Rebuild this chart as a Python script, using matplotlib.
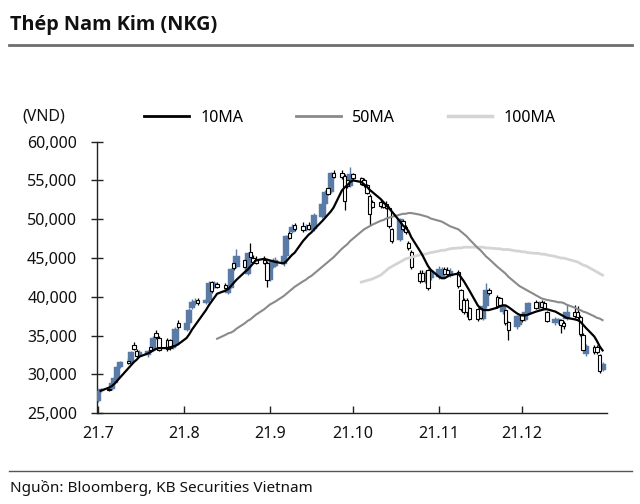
import matplotlib
matplotlib.use("Agg")
import matplotlib.pyplot as plt
import matplotlib.dates as mdates
from matplotlib.lines import Line2D
import numpy as np
import pandas as pd

plt.rcParams['font.family'] = ['Noto Sans', 'DejaVu Sans']

dates = pd.bdate_range('2021-07-01', '2021-12-30')

opens = [26600, 27900, 28100, 28100, 28900, 29600, 31000, 31700, 31500, 33800,
         33000, 32400, 32500, 33600, 33100, 35300, 34700, 34500, 34400, 33400,
         33800, 36600, 35700, 36600, 38500, 39300, 39600, 39200, 39600, 41900,
         41200, 41700, 41500, 40500, 41200, 44300, 43800, 44700, 42900, 45800,
         45000, 44800, 44800, 44400, 42200, 43800, 44000, 44200, 45200, 48200,
         48300, 49200, 49100, 48600, 49200, 48800, 48700, 50300, 52000, 54000,
         53500, 56000, 56000, 55600, 55000, 54300, 55800, 55300, 55000, 54400,
         53000, 52200, 52200, 52100, 52000, 51500, 48700, 47300, 49800, 49000,
         47000, 45800, 43100, 43100, 42000, 43400, 42400, 42500, 42600, 43600,
         43500, 42700, 43200, 40900, 39600, 39600, 38500, 38400, 38500, 37200,
         38800, 40900, 40000, 39800, 38000, 38300, 36700, 36100, 36400, 37800,
         37000, 37800, 39300, 38600, 39300, 39200, 38000, 36600, 36700, 37000,
         36600, 37200, 38000, 38100, 37400, 35100, 32600, 33500, 33600, 32500,
         30600]
highs = [28000, 28300, 28300, 29000, 29800, 31200, 31800, 32100, 33000, 34200,
         33300, 33100, 33200, 33800, 34900, 35700, 34900, 34700, 34600, 34000,
         36100, 37000, 36800, 38500, 39700, 39800, 39900, 39800, 42000, 42100,
         42000, 41900, 41800, 41400, 43700, 44600, 46200, 45000, 45800, 46900,
         45400, 45200, 45200, 44600, 44100, 45000, 45100, 45500, 48000, 48500,
         49400, 49500, 49600, 49400, 49600, 49500, 50800, 52200, 53800, 54200,
         56100, 56300, 56300, 55800, 55300, 56700, 56000, 55500, 55300, 54600,
         53200, 52500, 52500, 52400, 52300, 51700, 48900, 50200, 50000, 49200,
         47200, 46000, 43400, 43400, 43300, 43600, 43500, 44000, 43800, 43900,
         43800, 43700, 43400, 41000, 39800, 39900, 38700, 38600, 38700, 39000,
         41800, 41200, 40200, 40000, 39100, 38500, 36900, 37700, 37600, 38000,
         38200, 39400, 39600, 39500, 39600, 39500, 38200, 37400, 37300, 37200,
         36900, 38900, 38900, 38800, 37600, 35300, 33900, 33800, 33800, 32700,
         31600]
lows = [26400, 27800, 27900, 28000, 28800, 29500, 30800, 31400, 31400, 33100,
        32200, 32200, 32300, 32900, 33000, 34600, 33000, 33000, 33100, 33300,
        33700, 35900, 35600, 36500, 38400, 39000, 39000, 39100, 39400, 40500,
        41100, 41100, 41000, 40400, 41100, 43500, 43700, 43600, 42800, 45000,
        44300, 44200, 44200, 41300, 42000, 43700, 43900, 44000, 45100, 47400,
        48200, 48500, 48400, 48500, 48600, 48600, 48500, 50100, 51900, 53100,
        53400, 55300, 55200, 51200, 54000, 54100, 55000, 54400, 54200, 53200,
        49300, 51400, 51500, 51400, 51300, 48900, 47000, 47200, 48500, 48100,
        46100, 43600, 41800, 41900, 41800, 40900, 42200, 42300, 42400, 42800,
        42700, 42500, 41200, 38200, 37800, 37400, 37000, 36900, 37100, 37000,
        38600, 40300, 38600, 38700, 37800, 36400, 34400, 35900, 36200, 36800,
        36900, 37700, 38400, 38400, 38500, 38400, 36700, 36400, 36500, 35300,
        35800, 37000, 37300, 37200, 35000, 33000, 32400, 32700, 32700, 30200,
        30400]
closes = [27900, 28100, 28000, 28900, 29600, 31000, 31600, 31500, 32900, 33300,
          32400, 32900, 33000, 33100, 34700, 34800, 33200, 33300, 33400, 33800,
          35900, 36100, 36600, 38300, 39300, 39500, 39200, 39600, 41800, 40700,
          41800, 41300, 41100, 41200, 43600, 43700, 45200, 43800, 45600, 45100,
          44500, 44400, 44400, 42200, 43800, 44600, 44700, 45200, 47800, 47600,
          49000, 48700, 48600, 49000, 48800, 49100, 50600, 52000, 53500, 53300,
          55900, 55500, 55400, 52300, 54300, 55800, 55300, 54600, 54400, 53400,
          50700, 51600, 51700, 51600, 51500, 49100, 47200, 50000, 48700, 48300,
          46300, 43800, 42000, 42100, 43000, 41100, 43200, 43600, 43400, 43000,
          42900, 43300, 41400, 38400, 38100, 38000, 37200, 37100, 37300, 38800,
          40900, 40500, 38800, 38900, 38900, 36600, 35700, 37500, 37300, 37000,
          38000, 39200, 38600, 39200, 38700, 38600, 36900, 37200, 37100, 36400,
          36300, 38000, 37500, 37400, 35200, 33200, 33700, 32900, 32900, 30400,
          31400]

N = np.nan
ma10 = [N, 27900, 28300, 28500, 28800, 29200, 29600, 30800, 31200, 31600,
        31900, 32300, 32700, 32900, 33100, 33300, 33400, 33400, 33500, 33600,
        33700, 33900, 34700, 35200, 35800, 36300, 36800, 38300, 38900, 39400,
        39900, 40400, 40800, 41000, 41400, 41800, 42200, 43200, 43500, 43900,
        44300, 44700, 44900, 44800, 44700, 44600, 44500, 44300, 44600, 45000,
        45400, 45700, 47200, 47600, 48000, 48300, 48700, 49800, 50200, 50600,
        51000, 51500, 53700, 54100, 54400, 54800, 55000, 54800, 54500, 54200,
        53800, 53500, 52600, 52200, 51800, 51400, 51000, 49700, 49200, 48900,
        48500, 47700, 46000, 45400, 44700, 44000, 43500, 42600, 42400, 42400,
        42600, 42800, 43000, 42500, 42000, 41400, 40800, 38900, 38500, 38300,
        38300, 38300, 38600, 38800, 38900, 38900, 38700, 37900, 37700, 37600,
        37600, 37700, 38100, 38200, 38300, 38400, 38400, 38100, 37900, 37700,
        37500, 37300, 37100, 37000, 36800, 36400, 36000, 34900, 34300, 33600,
        33100]
ma50 = [N] * 31 + [
        34600, 35100, 35300, 35400, 35600, 35900, 36600, 36900, 37100,
        37400, 37700, 38400, 38700, 39000, 39200, 39400, 40100, 40400, 40700,
        41000, 41300, 42000, 42200, 42500, 42700, 43000, 43900, 44200, 44500,
        44800, 45100, 46200, 46500, 46800, 47200, 47500, 48400, 48700, 48900,
        49100, 49300, 49800, 49900, 50100, 50200, 50300, 50600, 50700, 50700,
        50800, 50800, 50600, 50500, 50400, 50300, 50100, 49800, 49700, 49500,
        49300, 49100, 48700, 48400, 48100, 47800, 47400, 46300, 46000, 45600,
        45200, 44900, 43900, 43600, 43300, 43000, 42600, 41700, 41400, 41200,
        41000, 40800, 40200, 40000, 39800, 39700, 39600, 39400, 39300, 39300,
        39200, 39000, 38600, 38400, 38300, 38100, 38000, 37500, 37300, 37200,
        37000]
ma100 = [N] * 67 + [
        41900, 42000, 42100,
        42200, 42300, 42800, 43100, 43400, 43700, 43900, 44500, 44700, 44900,
        45000, 45100, 45400, 45500, 45500, 45600, 45700, 45900, 46000, 46000,
        46100, 46200, 46300, 46300, 46400, 46400, 46400, 46400, 46400, 46400,
        46300, 46300, 46200, 46200, 46100, 46100, 46100, 45900, 45900, 45800,
        45800, 45700, 45600, 45600, 45500, 45500, 45400, 45200, 45100, 45000,
        45000, 44900, 44600, 44500, 44300, 44100, 44000, 43400, 43200, 43000,
        42800]

legend_labels = ['10MA', '50MA', '100MA']
BLUE = '#5a7ba6'
C10, C50, C100 = '#000000', '#8a8a8a', '#d4d4d4'

fig = plt.figure(figsize=(6.4, 5.04), dpi=100)
ax = fig.add_axes([0.152, 0.18, 0.796, 0.539])

x = mdates.date2num(dates)
o = np.array(opens, float); h = np.array(highs, float)
l = np.array(lows, float); c = np.array(closes, float)
up = c >= o

ax.vlines(x[up], l[up], h[up], colors=BLUE, linewidth=1.0, zorder=2)
ax.vlines(x[~up], l[~up], h[~up], colors='black', linewidth=0.9, zorder=2)
ax.bar(x[up], (c - o)[up], bottom=o[up], width=2.2, color=BLUE,
       edgecolor=BLUE, linewidth=0.3, zorder=3)
ax.bar(x[~up], (o - c)[~up], bottom=c[~up], width=1.2, color='white',
       edgecolor='black', linewidth=0.8, zorder=3)

ax.plot(x, ma100, color=C100, linewidth=2.0, zorder=4)
ax.plot(x, ma50, color=C50, linewidth=1.5, zorder=4)
ax.plot(x, ma10, color=C10, linewidth=1.6, zorder=5)

ax.set_ylim(25000, 60000)
ax.set_yticks(np.arange(25000, 60001, 5000))
ax.yaxis.set_major_formatter(matplotlib.ticker.FuncFormatter(lambda v, p: f'{int(v):,}'))
xmin = mdates.date2num(pd.Timestamp('2021-07-01')) - 0.2
xmax = mdates.date2num(pd.Timestamp('2021-12-31')) + 0.5
ax.set_xlim(xmin, xmax)
month_ticks = pd.date_range('2021-07-01', '2021-12-01', freq='MS')
ax.set_xticks(mdates.date2num(month_ticks))
ax.set_xticklabels([f'21.{d.month}' for d in month_ticks])

for s in ['top', 'right']:
    ax.spines[s].set_visible(False)
for s in ['left', 'bottom']:
    ax.spines[s].set_linewidth(1.0)
    ax.spines[s].set_color('#222222')
ax.tick_params(axis='y', direction='inout', length=9, width=1.0, pad=10,
               labelsize=11.5, colors='#222222', labelcolor='#111111')
ax.tick_params(axis='x', direction='in', length=5, width=1.0, pad=9,
               labelsize=11.5, colors='#222222', labelcolor='#111111')

fig.text(0.069, 0.768, '(VND)', fontsize=11.5, ha='center', va='center', color='#111111')

handles = [Line2D([], [], color=C10, lw=2.0),
           Line2D([], [], color=C50, lw=2.0),
           Line2D([], [], color=C100, lw=2.5)]
fig.legend(handles, legend_labels, loc='center', bbox_to_anchor=(0.547, 0.766),
           ncol=3, frameon=False, fontsize=11.5, handlelength=2.8,
           columnspacing=3.3, handletextpad=0.7)

fig.text(0.016, 0.95, 'Thép Nam Kim (NKG)', fontsize=14.3, fontweight='bold',
         family=['Open Sans', 'DejaVu Sans'],
         ha='left', va='center', color='#111111')
fig.add_artist(Line2D([0.014, 0.988], [0.911, 0.911], color='#6e6e6e', lw=2.0,
                      transform=fig.transFigure))
fig.add_artist(Line2D([0.014, 0.988], [0.066, 0.066], color='#555555', lw=1.0,
                      transform=fig.transFigure))
fig.text(0.016, 0.031, 'Nguồn: Bloomberg, KB Securities Vietnam', fontsize=11,
         ha='left', va='center', color='#111111')

fig.savefig('out.png', dpi=100)
